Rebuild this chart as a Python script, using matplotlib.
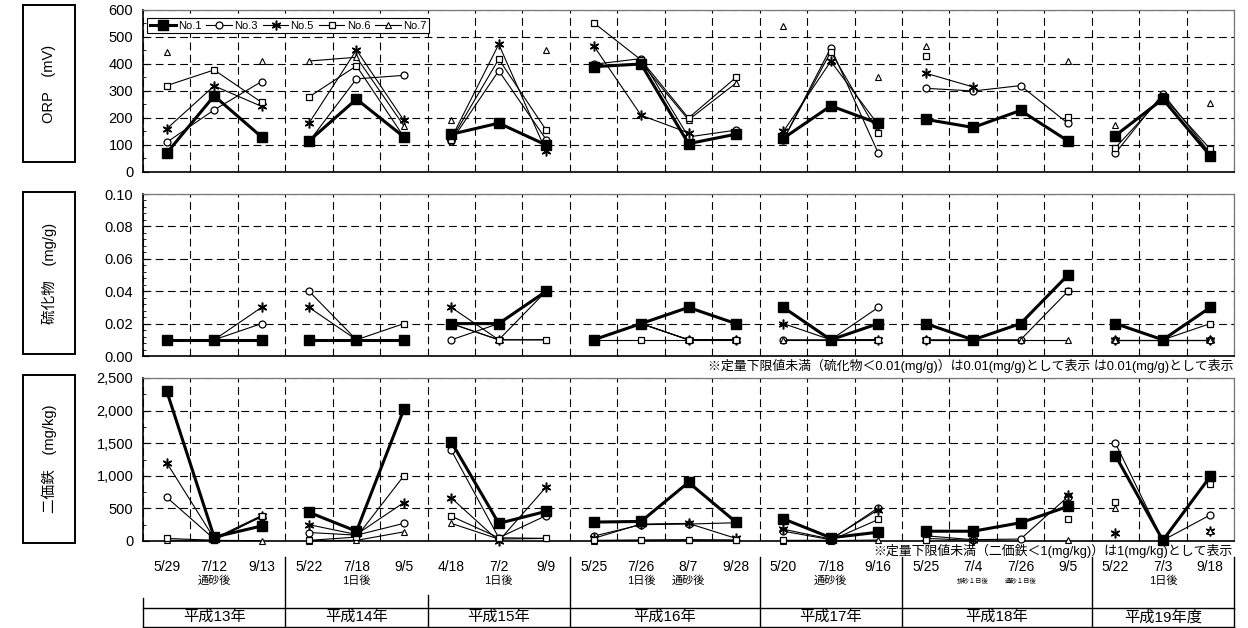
import numpy as np
import matplotlib
matplotlib.use("Agg")
import matplotlib.pyplot as plt
from matplotlib import transforms
from matplotlib.lines import Line2D
from matplotlib.patches import Rectangle
from matplotlib.ticker import MultipleLocator, FuncFormatter

plt.rcParams['font.family'] = ['Liberation Sans', 'Noto Sans CJK JP']

nan = np.nan

# ---- sampling dates, grouped by survey year ----
dates = ['5/29', '7/12', '9/13',
         '5/22', '7/18', '9/5',
         '4/18', '7/2', '9/9',
         '5/25', '7/26', '8/7', '9/28',
         '5/20', '7/18', '9/16',
         '5/25', '7/4', '7/26', '9/5',
         '5/22', '7/3', '9/18']
sub_labels = ['', '通砂後', '',
              '', '1日後', '',
              '', '1日後', '',
              '', '1日後', '通砂後', '',
              '', '通砂後', '',
              '', '排砂１日後', '通砂１日後', '',
              '', '1日後', '']
years = ['平成13年', '平成14年', '平成15年', '平成16年', '平成17年', '平成18年', '平成19年度']
group_sizes = [3, 3, 3, 4, 3, 4, 3]

stations = ['No.1', 'No.3', 'No.5', 'No.6', 'No.7']

# ---- ORP (mV) ----
orp_no1 = [70, 282, 130, 115, 270, 130, 140, 181, 100, 390, 400, 105, 140, 125, 245, 180, 195, 165, 228, 115, 135, 270, 60]
orp_no3 = [110, 230, 335, 113, 345, 358, 115, 375, 120, 399, 420, 130, 155, 120, 460, 70, 310, 300, 320, 180, 70, 290, 70]
orp_no5 = [160, 319, 243, 181, 452, 191, 125, 473, 76, 468, 210, 145, nan, 150, 410, 175, 366, 315, nan, nan, nan, nan, nan]
orp_no6 = [320, 378, 258, 278, 393, 130, 120, 418, 155, 553, 415, 200, 350, 120, 445, 145, 431, nan, nan, 205, 90, 280, 85]
orp_no7 = [443, nan, 411, 411, 425, 171, 193, nan, 452, nan, 405, 193, 329, 540, nan, 350, 465, nan, nan, 410, 175, nan, 255]

# ---- sulfide (mg/g) ----
sul_no1 = [.01, .01, .01, .01, .01, .01, .02, .02, .04, .01, .02, .03, .02, .03, .01, .02, .02, .01, .02, .05, .02, .01, .03]
sul_no3 = [.01, .01, .02, .04, .01, .01, .01, .02, .04, .01, .02, .01, .01, .01, .01, .03, .01, .01, .01, .04, .01, .01, .01]
sul_no5 = [.01, .01, .03, .03, .01, .01, .03, .01, .04, .01, .02, .01, .01, .02, .01, .01, .01, .01, nan, nan, .01, .01, .01]
sul_no6 = [.01, .01, .01, .01, .01, .02, .02, .01, .01, .01, .01, .01, .01, .03, .01, .01, .01, nan, nan, .04, .02, .01, .02]
sul_no7 = [.01, .01, .01, .01, .01, .01, .02, .01, .01, .01, .02, .01, .01, .01, .01, .01, .01, .01, .01, .01, .01, .01, .01]

# ---- ferrous iron (mg/kg) ----
fe_no1 = [2300, 60, 230, 440, 150, 2020, 1520, 270, 455, 290, 300, 900, 290, 340, 50, 135, 150, 150, 280, 530, 1310, 10, 990]
fe_no3 = [670, 30, 370, 130, 90, 270, 1390, 50, 390, 75, 250, 260, 280, 150, 20, 510, 80, 20, 30, 680, 1500, 10, 400]
fe_no5 = [1200, 40, 390, 250, 100, 590, 660, 0, 830, 40, 260, 270, 40, 180, 30, 480, 40, 10, nan, 700, 120, nan, 150]
fe_no6 = [40, 10, 380, 10, 60, 1000, 380, 50, 40, 10, 15, 15, 15, 10, 10, 330, 20, nan, nan, 330, 600, nan, 880]
fe_no7 = [10, 10, 5, 5, 10, 140, 270, 30, 40, 5, 10, 20, 10, 5, 5, 15, 15, nan, nan, 10, 510, nan, 150]

W, H = 1248, 628
fig = plt.figure(figsize=(W / 100, H / 100), dpi=100)


def fx(px):
    return px / W


def fy(px):
    return 1 - px / H


X0, X1 = 143, 1234
panels = [(10, 172), (194, 356), (378, 541)]
axes = []
for top, bot in panels:
    ax = fig.add_axes([fx(X0), fy(bot), fx(X1) - fx(X0), (bot - top) / H])
    axes.append(ax)
ax_orp, ax_sul, ax_fe = axes

styles = {
    'No.1': dict(color='black', lw=2.2, marker='s', ms=6.5, mfc='black', mec='black', zorder=6),
    'No.3': dict(color='black', lw=0.8, marker='o', ms=5, mfc='white', mec='black', mew=0.9, zorder=4),
    'No.5': dict(color='black', lw=0.8, marker=(6, 2, 0), ms=7, mec='black', mew=1.1, zorder=4),
    'No.6': dict(color='black', lw=0.8, marker='s', ms=5, mfc='white', mec='black', mew=0.9, zorder=5),
    'No.7': dict(color='black', lw=0.8, marker='^', ms=4, mfc='white', mec='black', mew=0.8, zorder=4),
}

datasets = [
    (ax_orp, [orp_no1, orp_no3, orp_no5, orp_no6, orp_no7]),
    (ax_sul, [sul_no1, sul_no3, sul_no5, sul_no6, sul_no7]),
    (ax_fe, [fe_no1, fe_no3, fe_no5, fe_no6, fe_no7]),
]

starts = np.concatenate([[0], np.cumsum(group_sizes)[:-1]])
n_cat = len(dates)
handles = []
for ax, series in datasets:
    for name, vals in zip(stations, series):
        vals = np.asarray(vals, dtype=float)
        for s, n in zip(starts, group_sizes):
            x = np.arange(s, s + n)
            ln, = ax.plot(x, vals[s:s + n], clip_on=False, **styles[name])
            if ax is ax_orp and s == 0:
                ln.set_label(name)
                handles.append(ln)

dash = (0, (7, 4))
for ax in axes:
    ax.set_xlim(-0.5, n_cat - 0.5)
    ax.set_xticks(np.arange(-0.5, n_cat, 1.0))
    ax.tick_params(axis='x', length=0, labelbottom=False)
    ax.tick_params(axis='y', which='both', direction='in', labelsize=10.5, pad=7)
    ax.tick_params(axis='y', which='major', length=4)
    ax.tick_params(axis='y', which='minor', length=2.5)
    ax.grid(True, which='major', color='black', lw=0.8, ls=dash)
    ax.set_axisbelow(True)
    for sp in ('left', 'bottom'):
        ax.spines[sp].set_color('black')
        ax.spines[sp].set_linewidth(1.2)
    for sp in ('top', 'right'):
        ax.spines[sp].set_color('#777777')
        ax.spines[sp].set_linewidth(0.9)

ax_orp.set_ylim(0, 600)
ax_orp.yaxis.set_major_locator(MultipleLocator(100))
ax_orp.yaxis.set_minor_locator(MultipleLocator(50))

ax_sul.set_ylim(0, 0.10)
ax_sul.yaxis.set_major_locator(MultipleLocator(0.02))
ax_sul.yaxis.set_minor_locator(MultipleLocator(0.004))
ax_sul.yaxis.set_major_formatter(FuncFormatter(lambda v, p: f'{v:.2f}'))

ax_fe.set_ylim(0, 2500)
ax_fe.yaxis.set_major_locator(MultipleLocator(500))
ax_fe.yaxis.set_minor_locator(MultipleLocator(250))
ax_fe.yaxis.set_major_formatter(FuncFormatter(lambda v, p: f'{v:,.0f}'))

leg = ax_orp.legend(handles=handles, loc='upper left', bbox_to_anchor=(0.002, 0.965),
                    ncol=5, fontsize=8, frameon=True, fancybox=False,
                    edgecolor='black', framealpha=1, borderpad=0.25,
                    handlelength=2.3, handletextpad=0.2, columnspacing=0.45,
                    borderaxespad=0.2)
leg.get_frame().set_linewidth(0.8)
leg.set_zorder(10)

# ---- notes under the panels ----
fig.text(fx(1233), fy(366), '※定量下限値未満（硫化物＜0.01(mg/g)）は0.01(mg/g)として表示 は0.01(mg/g)として表示',
         ha='right', va='center', fontsize=9.3)
fig.text(fx(1233), fy(551), '※定量下限値未満（二価鉄＜1(mg/kg)）は1(mg/kg)として表示',
         ha='right', va='center', fontsize=9.3)

# ---- category labels below the bottom panel ----
tr = transforms.blended_transform_factory(ax_fe.transData, fig.transFigure)
for i, (d, sl) in enumerate(zip(dates, sub_labels)):
    fig.text(i, fy(567), d, transform=tr, ha='center', va='center', fontsize=10)
    if sl:
        small = len(sl) > 3
        fig.text(i, fy(581), sl, transform=tr, ha='center', va='center',
                 fontsize=4.6 if small else 8)

for s, n, yr in zip(starts, group_sizes, years):
    fig.text(s + (n - 1) / 2, fy(617), yr, transform=tr, ha='center', va='center', fontsize=11)

# table rules around the date and year rows
bounds = list(np.concatenate([[0], np.cumsum(group_sizes)]) - 0.5)
for b in bounds:
    if b == -0.5:
        y_top = 598
    elif b == 5.5:
        y_top = 595
    else:
        y_top = 557
    fig.add_artist(Line2D([b, b], [fy(y_top), fy(628)], transform=tr, color='black', lw=1.0))
for yy in (608, 627):
    fig.add_artist(Line2D([-0.5, n_cat - 0.5], [fy(yy), fy(yy)], transform=tr, color='black', lw=1.0))

# ---- boxed axis titles on the left ----
boxes = [(5, 162, 'ORP\u3000(mV)'), (192, 354, '硫化物\u3000(mg/g)'), (375, 543, '二価鉄\u3000(mg/kg)')]
for top, bot, label in boxes:
    fig.add_artist(Rectangle((fx(23), fy(bot)), fx(75) - fx(23), (bot - top) / H,
                             transform=fig.transFigure, fill=False, edgecolor='black', lw=1.4))
    fig.text(fx(49), fy((top + bot) / 2), label, rotation=90, ha='center', va='center', fontsize=10.5)

fig.savefig('out.png', dpi=100)
